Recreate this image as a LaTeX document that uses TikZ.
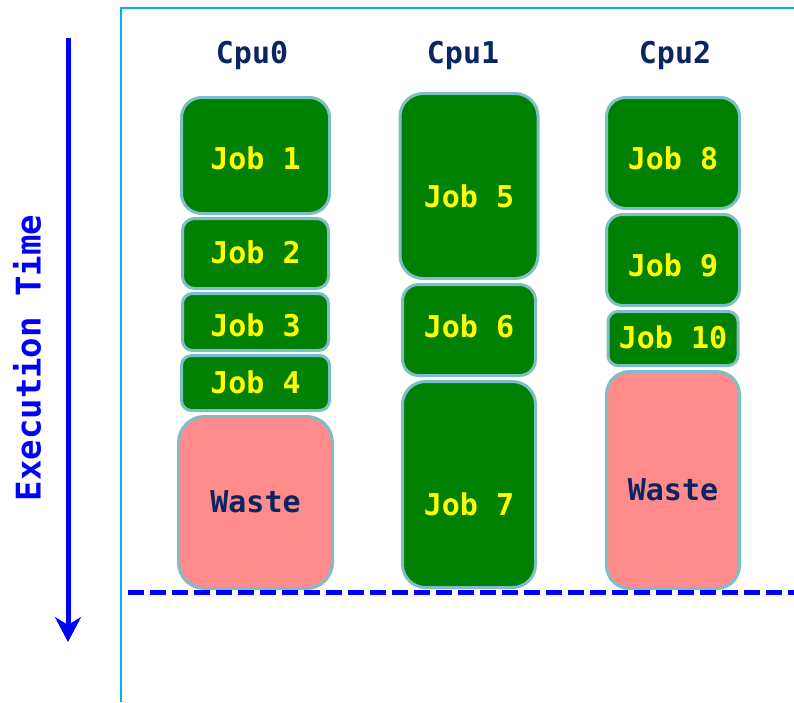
\documentclass[tikz,border=0pt]{standalone}
\usepackage{fontspec}
\setmonofont{DejaVu Sans Mono}
\usepackage{xcolor}
\usepackage{tikz}
\usetikzlibrary{arrows.meta,positioning}
\definecolor{jobgreen}{HTML}{008000}
\definecolor{jobink}{HTML}{FFFF00}
\definecolor{wastefill}{HTML}{FF8B8B}
\definecolor{boxedge}{HTML}{7DBFC8}
\definecolor{navy}{HTML}{0B2462}
\definecolor{timeblue}{HTML}{0000FF}
\definecolor{frame}{HTML}{00B0F0}
\newcommand{\boxfont}{\ttfamily\bfseries\fontsize{30}{31}\selectfont}
\newcommand{\timefont}{\ttfamily\bfseries\fontsize{34}{36}\selectfont}
\tikzset{
  job/.style={draw=boxedge,fill=jobgreen,line width=3pt,rounded corners=18pt,
    text=jobink,font=\boxfont,inner sep=0pt,text height=20pt,text depth=0pt},
  waste/.style={job,fill=wastefill,text=navy,rounded corners=24pt},
  cpuhead/.style={text=navy,font=\boxfont,inner sep=0pt,text height=20pt,text depth=0pt},
  timearr/.style={-{Stealth[length=25pt,width=26pt,inset=8pt]},line width=5pt,draw=timeblue},
  deadline/.style={line width=5pt,draw=timeblue,dash pattern=on 16pt off 6pt}
}

\begin{document}
\begin{tikzpicture}[x=1pt,y=-1pt,node distance=2pt]
 \useasboundingbox (0,0) rectangle (794,702);
 % frame
 \draw[frame,line width=2pt] (794,8) -- (121,8) -- (121,702);
 % time axis
 \coordinate (ttop) at (68,38);
 \coordinate (tbot) at (68,642);
 \draw[timearr] (ttop) -- (tbot);
 \node[rotate=90,text=timeblue,font=\timefont] (time) at (27,358) {Execution Time};
 % cpu heads
 \node[cpuhead] (c0) at (252,53) {Cpu0};
 \node[cpuhead] (c1) at (463,53) {Cpu1};
 \node[cpuhead] (c2) at (675,53) {Cpu2};
 % cpu0
 \node[job,minimum width=148pt,minimum height=116pt,text height=27pt,rounded corners=20pt] (j1) at (255.5,155.5) {Job 1};
 \node[job,minimum width=146pt,minimum height=70pt,rounded corners=12pt,below=of j1] (j2) {Job 2};
 \node[job,minimum width=146pt,minimum height=57pt,text height=28pt,rounded corners=10pt,below=of j2] (j3) {Job 3};
 \node[job,minimum width=148pt,minimum height=55pt,rounded corners=10pt,below=of j3] (j4) {Job 4};
 \node[waste,minimum width=154pt,minimum height=172pt,rounded corners=26pt,below=3pt of j4] (w0) {Waste};
 % cpu1
 \node[job,minimum width=138pt,minimum height=185pt,text height=42pt,rounded corners=23pt] (j5) at (469,186) {Job 5};
 \node[job,minimum width=133pt,minimum height=91pt,text height=14pt,rounded corners=16pt,below=3pt of j5] (j6) {Job 6};
 \node[job,minimum width=133pt,minimum height=206pt,text height=62pt,rounded corners=23pt,below=3pt of j6] (j7) {Job 7};
 % cpu2
 \node[job,minimum width=133pt,minimum height=111pt,text height=32pt,rounded corners=19pt] (j8) at (673,153) {Job 8};
 \node[job,minimum width=133pt,minimum height=91pt,text height=32pt,rounded corners=16pt,below=3pt of j8] (j9) {Job 9};
 \node[job,minimum width=130pt,minimum height=54pt,rounded corners=10pt,below=3pt of j9] (j10) {Job 10};
 \node[waste,minimum width=133pt,minimum height=217pt,text height=40pt,rounded corners=23pt,below=3pt of j10] (w2) {Waste};
 % deadline
 \coordinate (dl) at (128,592);
 \coordinate (dr) at (794,592);
 \draw[deadline] (dl) -- (dr);
\end{tikzpicture}
\end{document}
